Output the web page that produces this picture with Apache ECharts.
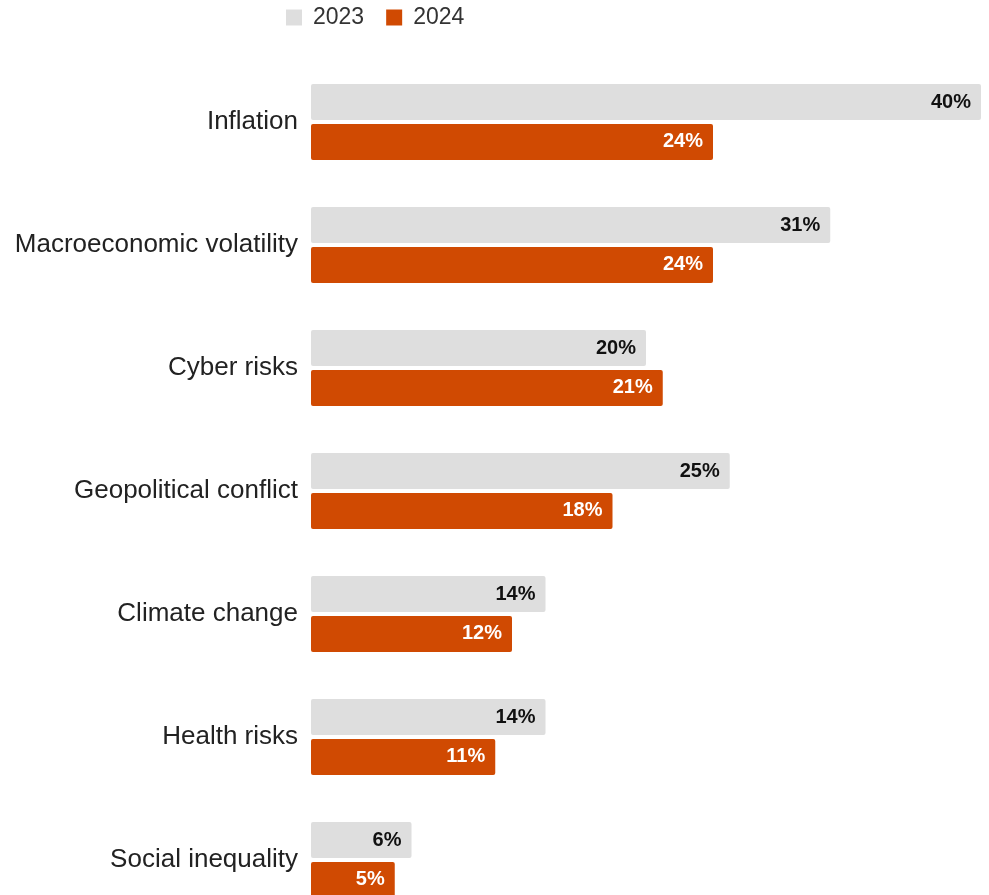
<!DOCTYPE html>
<html><head><meta charset="utf-8">
<script src="https://cdn.jsdelivr.net/npm/echarts@6/dist/echarts.min.js"></script>
<style>html,body{margin:0;padding:0;background:#fff}#c{width:989px;height:895px}</style>
</head><body><div id="c"></div>
<script>
const categories = ["Inflation","Macroeconomic volatility","Cyber risks","Geopolitical conflict","Climate change","Health risks","Social inequality"];
const values2023 = [40,31,20,25,14,14,6];
const values2024 = [24,24,21,18,12,11,5];
const seriesNames = ["2023","2024"];
const FONT = "'Liberation Sans', Arial, sans-serif";
const chart = echarts.init(document.getElementById('c'));
chart.setOption({
  animation:false,
  textStyle:{fontFamily:FONT},
  legend:{left:286,top:6,padding:0,itemWidth:16,itemHeight:16,itemGap:22,icon:'rect',
    textStyle:{fontSize:23,color:'#333',fontFamily:FONT,padding:[0,0,0,6]},data:seriesNames},
  grid:{left:311,right:8,top:60.5,height:861,outerBoundsMode:'none'},
  xAxis:{type:'value',min:0,max:40,show:false},
  yAxis:{type:'category',data:categories,inverse:true,
    axisLine:{show:false},axisTick:{show:false},
    axisLabel:{fontSize:26,color:'#222',margin:13,fontFamily:FONT,padding:[4,0,0,0]}},
  series:[
    {name:seriesNames[0],type:'bar',data:values2023,barWidth:36,barGap:'11%',
      itemStyle:{color:'#dedede',borderRadius:2},
      label:{show:true,position:'insideRight',distance:10,formatter:'{c}%',fontSize:20,fontWeight:'bold',color:'#111',fontFamily:FONT,padding:[4,0,0,0]}},
    {name:seriesNames[1],type:'bar',data:values2024,barWidth:36,
      itemStyle:{color:'#d04a02',borderRadius:2},
      label:{show:true,position:'insideRight',distance:10,formatter:'{c}%',fontSize:20,fontWeight:'bold',color:'#fff',fontFamily:FONT,padding:[4,0,0,0]}}
  ]
});
</script></body></html>
